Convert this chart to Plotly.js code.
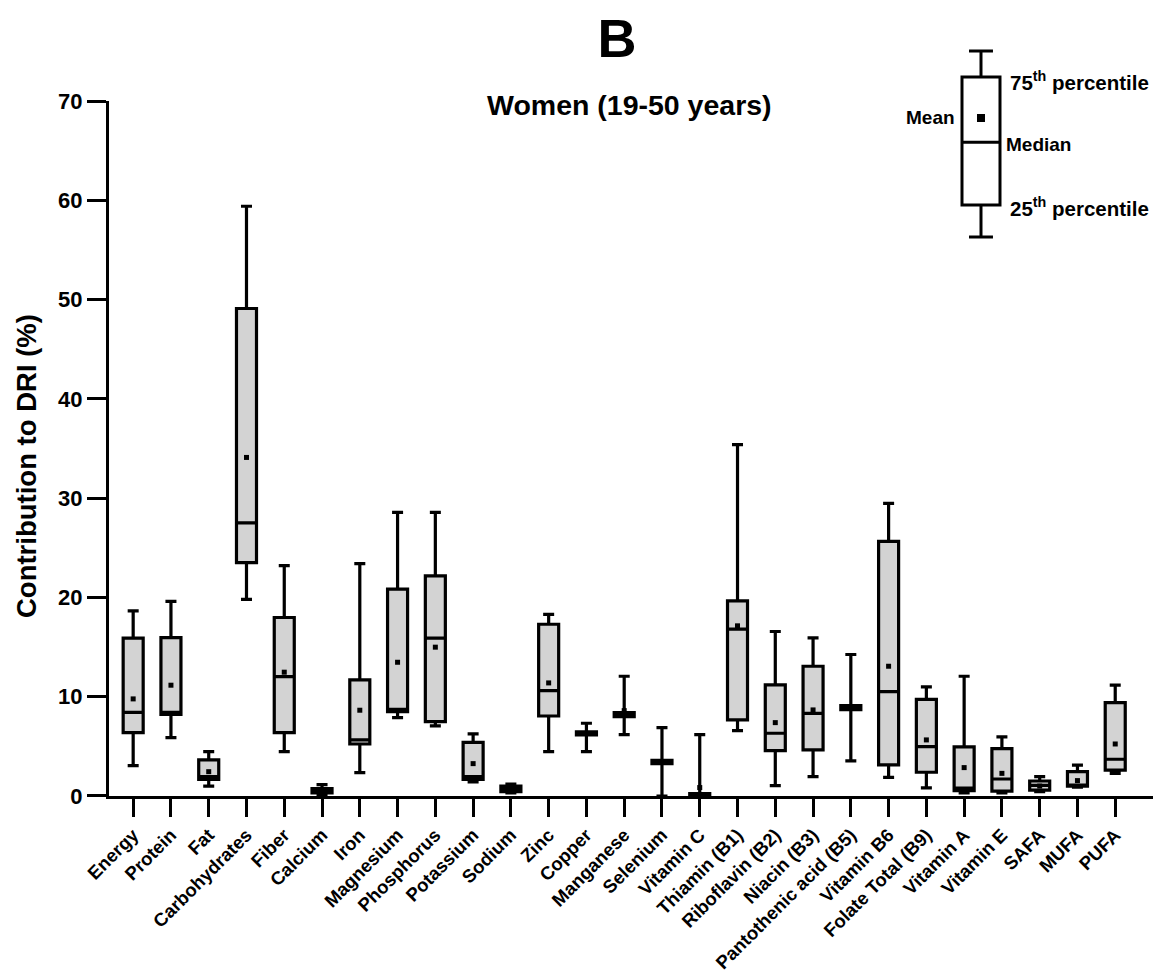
<!DOCTYPE html>
<html>
<head>
<meta charset="utf-8">
<script src="https://cdn.plot.ly/plotly-3.0.1.min.js"></script>
<style>
  html, body { margin: 0; padding: 0; background: #ffffff; }
  #chart { width: 1154px; height: 972px; }
</style>
</head>
<body>
<div id="chart"></div>
<script>
// Nutrients on the x axis
const categories = [
  'Energy', 'Protein', 'Fat', 'Carbohydrates', 'Fiber', 'Calcium', 'Iron',
  'Magnesium', 'Phosphorus', 'Potassium', 'Sodium', 'Zinc', 'Copper',
  'Manganese', 'Selenium', 'Vitamin C', 'Thiamin (B1)', 'Riboflavin (B2)',
  'Niacin (B3)', 'Pantothenic acid (B5)', 'Vitamin B6', 'Folate Total (B9)',
  'Vitamin A', 'Vitamin E', 'SAFA', 'MUFA', 'PUFA'
];

// Contribution to DRI (%) summary statistics per nutrient
const minVals = [3.06, 5.88, 1.0, 19.8, 4.47, 0.1, 2.35, 7.9, 7.06, 1.41, 0.3, 4.47, 4.47,
  6.18, 0.0, 0.0, 6.59, 1.04, 1.95, 3.53, 1.88, 0.81, 0.3, 0.3, 0.45, 0.9, 2.28];
const q1Vals = [6.38, 8.23, 1.68, 23.5, 6.38, 0.3, 5.24, 8.5, 7.49, 1.68, 0.45, 8.06, 6.15,
  8.0, 3.25, 0.0, 7.66, 4.57, 4.64, 8.7, 3.13, 2.39, 0.55, 0.5, 0.6, 1.0, 2.6];
const medianVals = [8.43, 8.43, 1.95, 27.5, 12.03, 0.5, 5.65, 8.74, 15.9, 1.95, 0.7, 10.62, 6.3,
  8.2, 3.45, 0.1, 16.8, 6.32, 8.33, 8.9, 10.52, 4.97, 0.8, 1.71, 1.08, 1.05, 3.7];
const q3Vals = [15.9, 15.96, 3.63, 49.1, 17.98, 0.75, 11.7, 20.83, 22.18, 5.41, 1.0, 17.3, 6.45,
  8.4, 3.6, 0.25, 19.66, 11.19, 13.07, 9.1, 25.64, 9.74, 4.94, 4.77, 1.51, 2.45, 9.41];
const maxVals = [18.65, 19.6, 4.47, 59.4, 23.2, 1.15, 23.4, 28.56, 28.56, 6.25, 1.2, 18.3, 7.33,
  12.06, 6.89, 6.18, 35.4, 16.57, 15.93, 14.25, 29.47, 10.99, 12.06, 5.95, 1.95, 3.1, 11.16];
const meanVals = [9.78, 11.16, 2.45, 34.1, 12.47, 0.55, 8.64, 13.47, 14.99, 3.26, 0.7, 11.39, 6.3,
  8.6, 3.45, 0.85, 17.14, 7.39, 8.67, 8.9, 13.07, 5.65, 2.86, 2.28, 1.0, 1.55, 5.24];

const yTickVals = [0, 10, 20, 30, 40, 50, 60, 70];

// Schematic box for the key: min, q1, median, q3, max, mean
const keyMin = [0];
const keyQ1 = [1.72];
const keyMedian = [5.1];
const keyQ3 = [8.6];
const keyMax = [10];
const keyMean = [6.4];

const FONT = 'Arial, "Liberation Sans", Helvetica, sans-serif';

const boxTrace = {
  type: 'box',
  x: categories,
  lowerfence: minVals,
  q1: q1Vals,
  median: medianVals,
  q3: q3Vals,
  upperfence: maxVals,
  boxpoints: false,
  fillcolor: '#d3d3d3',
  line: { color: '#000000', width: 3.2 },
  width: 0.53,
  whiskerwidth: 0.55,
  hoverinfo: 'skip',
  showlegend: false,
  xaxis: 'x',
  yaxis: 'y'
};

const meanTrace = {
  type: 'scatter',
  mode: 'markers',
  x: categories,
  y: meanVals,
  marker: { symbol: 'square', size: 5, color: '#000000' },
  hoverinfo: 'skip',
  showlegend: false,
  xaxis: 'x',
  yaxis: 'y'
};

const keyBox = {
  type: 'box',
  x: [0],
  lowerfence: keyMin,
  q1: keyQ1,
  median: keyMedian,
  q3: keyQ3,
  upperfence: keyMax,
  boxpoints: false,
  fillcolor: '#ffffff',
  line: { color: '#000000', width: 3 },
  width: 1,
  whiskerwidth: 0.63,
  hoverinfo: 'skip',
  showlegend: false,
  xaxis: 'x2',
  yaxis: 'y2'
};

const keyMeanTrace = {
  type: 'scatter',
  mode: 'markers',
  x: [0],
  y: keyMean,
  marker: { symbol: 'square', size: 8, color: '#000000' },
  hoverinfo: 'skip',
  showlegend: false,
  xaxis: 'x2',
  yaxis: 'y2'
};

const keyFont = { family: FONT, size: 19, color: '#000000', weight: 'bold' };
const keyFontWide = { family: FONT, size: 20.5, color: '#000000', weight: 'bold' };

const layout = {
  width: 1154,
  height: 972,
  paper_bgcolor: '#ffffff',
  plot_bgcolor: '#ffffff',
  margin: { l: 109, r: 1, t: 40, b: 176, pad: 0 },
  font: { family: FONT, color: '#000000' },
  title: {
    text: 'B',
    font: { family: FONT, size: 54, color: '#000000', weight: 'bold' },
    x: 0.5347,
    xanchor: 'center',
    xref: 'container',
    y: 0.961,
    yanchor: 'middle',
    yref: 'container'
  },
  xaxis: {
    type: 'category',
    domain: [0, 1],
    range: [-0.64, 27.0],
    showline: true,
    linecolor: '#000000',
    linewidth: 3,
    ticks: 'outside',
    ticklen: 18,
    tickwidth: 3,
    tickcolor: '#000000',
    tickangle: -45,
    tickfont: { family: FONT, size: 18.5, color: '#000000', weight: 'bold' },
    showgrid: false,
    zeroline: false,
    fixedrange: true,
    anchor: 'y'
  },
  yaxis: {
    domain: [0, 0.9193],
    range: [0, 70],
    tickvals: yTickVals,
    showline: true,
    linecolor: '#000000',
    linewidth: 3,
    ticks: 'outside',
    ticklen: 19,
    tickwidth: 3,
    tickcolor: '#000000',
    tickfont: { family: FONT, size: 22, color: '#000000', weight: 'bold' },
    showgrid: false,
    zeroline: false,
    fixedrange: true,
    anchor: 'x'
  },
  xaxis2: {
    domain: [0.79885, 0.87165],
    range: [-1, 1],
    visible: false,
    fixedrange: true,
    anchor: 'y2'
  },
  yaxis2: {
    domain: [0.7283, 0.9966],
    range: [-0.45, 10.45],
    visible: false,
    fixedrange: true,
    anchor: 'x2'
  },
  annotations: [
    {
      text: 'Women (19-50 years)',
      xref: 'paper', yref: 'paper',
      x: 0.499, y: 0.914,
      xanchor: 'center', yanchor: 'middle',
      showarrow: false,
      font: { family: FONT, size: 28.5, color: '#000000', weight: 'bold' }
    },
    {
      text: 'Contribution to DRI (%)',
      xref: 'paper', yref: 'paper',
      x: -0.0795, y: 0.4365,
      xanchor: 'center', yanchor: 'middle',
      textangle: -90,
      showarrow: false,
      font: { family: FONT, size: 27.5, color: '#000000', weight: 'bold' }
    },
    { text: 'Max', xref: 'x2', yref: 'y2', x: 0.03, y: 10.54,
      xanchor: 'center', yanchor: 'middle', showarrow: false, font: keyFont },
    { text: '75<sup>th</sup> percentile', xref: 'x2', yref: 'y2', x: 0.71, y: 8.4,
      xanchor: 'left', yanchor: 'middle', showarrow: false, font: keyFontWide },
    { text: 'Mean', xref: 'x2', yref: 'y2', x: -0.63, y: 6.4,
      xanchor: 'right', yanchor: 'middle', showarrow: false, font: keyFont },
    { text: 'Median', xref: 'x2', yref: 'y2', x: 0.6, y: 4.95,
      xanchor: 'left', yanchor: 'middle', showarrow: false, font: keyFont },
    { text: '25<sup>th</sup> percentile', xref: 'x2', yref: 'y2', x: 0.71, y: 1.6,
      xanchor: 'left', yanchor: 'middle', showarrow: false, font: keyFontWide },
    { text: 'Min', xref: 'x2', yref: 'y2', x: 0.05, y: -0.7,
      xanchor: 'center', yanchor: 'middle', showarrow: false, font: keyFont }
  ]
};

Plotly.newPlot('chart', [boxTrace, meanTrace, keyBox, keyMeanTrace], layout,
  { staticPlot: true, displayModeBar: false });
</script>
</body>
</html>
